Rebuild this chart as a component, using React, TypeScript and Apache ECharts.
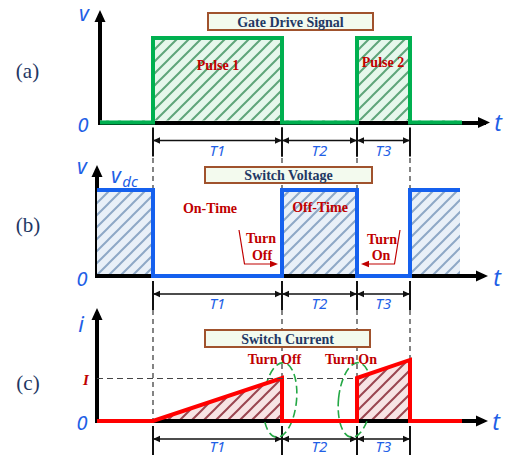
import React, { useEffect, useRef } from 'react';
import * as echarts from 'echarts';

// Switching instants (time units, 1 unit = 10 px) shared by the three traces
const edgeTimes = [5.5, 18.4, 25.9, 31.2];

// Interval spans dimensioned beneath each trace
const spanStarts = [5.5, 18.4, 25.9];
const spanEnds = [18.4, 25.9, 31.2];
const spanLabels = ['T1', 'T2', 'T3'];

// (a) gate drive signal (normalised)
const gateTimes = [0.2, 5.5, 5.5, 18.4, 18.4, 25.9, 25.9, 31.2, 31.2, 36.4];
const gateLevels = [0, 0, 1, 1, 0, 0, 1, 1, 0, 0];

// (b) switch voltage, normalised to Vdc
const voltTimes = [-0.1, 5.5, 5.5, 18.4, 18.4, 25.9, 25.9, 31.2, 31.2, 36.2];
const voltLevels = [1, 1, 0, 0, 1, 1, 0, 0, 1, 1];

// (c) switch current, normalised to I
const currTimes = [-0.1, 5.5, 18.4, 18.4, 25.9, 25.9, 31.2, 31.2, 36.4];
const currLevels = [0, 0, 1, 0, 0, 1, 1.42, 0, 0];
const currRefLevel = 1;
const currRefEnd = 25.9;

// Turn-off / turn-on instants annotated on (b) and (c); side = where the arrow sits
const turnTimes = [18.4, 25.9];
const turnSides = [-1, 1];

const BLUE_TXT = '#1F5FE6';
const NAVY = '#1F3864';
const RED_TXT = '#C00000';
const ITAL = '"Noto Sans", sans-serif';
const SERIF = '"Liberation Serif", "Times New Roman", serif';

function hatch(bg: string, stripe: string, size = 12, lw = 2) {
  const c = document.createElement('canvas');
  c.width = size;
  c.height = size;
  const g = c.getContext('2d')!;
  g.fillStyle = bg;
  g.fillRect(0, 0, size, size);
  g.strokeStyle = stripe;
  g.lineWidth = lw;
  g.beginPath();
  g.moveTo(0, size);
  g.lineTo(size, 0);
  g.moveTo(-size / 2, size / 2);
  g.lineTo(size / 2, -size / 2);
  g.moveTo(size / 2, size * 1.5);
  g.lineTo(size * 1.5, size / 2);
  g.stroke();
  return { image: c, repeat: 'repeat', imageWidth: size, imageHeight: size } as any;
}

const txt = (text: string, x: number, y: number, font: string, fill: string) => ({
  type: 'text',
  silent: true,
  z: 100,
  style: {
    text, x, y, font, fill,
    textAlign: 'center', textVerticalAlign: 'middle',
    align: 'center', verticalAlign: 'middle',
  },
});

const box = (x: number, y: number, w: number, h: number, label: string) => [
  {
    type: 'rect',
    silent: true,
    z: 99,
    shape: { x, y, width: w, height: h },
    style: { fill: '#F3FAEE', stroke: '#A0522D', lineWidth: 2 },
  },
  txt(label, x + w / 2, y + h / 2 + 0.5, `bold 14px ${SERIF}`, NAVY),
];

function axisPair(idx: number, xmin: number, xmax: number, ymax: number) {
  const line = {
    onZero: false,
    symbol: ['none', 'triangle'],
    symbolSize: [11, 12],
    lineStyle: { color: '#000', width: 4, cap: 'square' },
  };
  const hidden = {
    axisTick: { show: false },
    axisLabel: { show: false },
    splitLine: { show: false },
  };
  return {
    x: { gridIndex: idx, type: 'value', min: xmin, max: xmax, axisLine: line, ...hidden },
    y: { gridIndex: idx, type: 'value', min: 0, max: ymax, axisLine: line, ...hidden },
  };
}

function trace(idx: number, times: number[], levels: number[], color: string, fill: any, origin: number) {
  return {
    type: 'line',
    xAxisIndex: idx,
    yAxisIndex: idx,
    data: times.map((t, i) => [t, levels[i]]),
    symbol: 'none',
    showSymbol: false,
    clip: false,
    silent: true,
    lineStyle: { color, width: 4, cap: 'butt', join: 'miter' },
    areaStyle: { color: fill, opacity: 1, origin },
  } as any;
}

function dims(idx: number, labelOffset: number) {
  return {
    type: 'custom',
    xAxisIndex: idx,
    yAxisIndex: idx,
    silent: true,
    clip: false,
    encode: { x: [0, 1], y: 2 },
    data: spanStarts.map((s, i) => [s, spanEnds[i], 0]),
    renderItem: (params: any, api: any) => {
      const [x1, y0] = api.coord([api.value(0), 0]);
      const [x2] = api.coord([api.value(1), 0]);
      const y = y0 + 18;
      const k = { stroke: '#111', lineWidth: 1.3 };
      return {
        type: 'group',
        children: [
          { type: 'line', shape: { x1, y1: y, x2, y2: y }, style: k },
          { type: 'polygon', shape: { points: [[x1, y], [x1 + 7, y - 3.2], [x1 + 7, y + 3.2]] }, style: { fill: '#111' } },
          { type: 'polygon', shape: { points: [[x2, y], [x2 - 7, y - 3.2], [x2 - 7, y + 3.2]] }, style: { fill: '#111' } },
          { type: 'line', shape: { x1, y1: y0 + 5, x2: x1, y2: y0 + 34 }, style: { stroke: '#111', lineWidth: 2 } },
          { type: 'line', shape: { x1: x2, y1: y0 + 5, x2, y2: y0 + 34 }, style: { stroke: '#111', lineWidth: 2 } },
          txt(spanLabels[params.dataIndex], (x1 + x2) / 2, y0 + labelOffset, `italic 15px ${ITAL}`, BLUE_TXT),
        ],
      };
    },
  } as any;
}

// dashed guides joining the switching instants between panels
function guides(idx: number, refLevel: number, rise: number, drop: number) {
  return {
    type: 'custom',
    xAxisIndex: idx,
    yAxisIndex: idx,
    silent: true,
    clip: false,
    encode: { x: 0, y: 1 },
    data: edgeTimes.map((t) => [t, 0]),
    renderItem: (_p: any, api: any) => {
      const [x, yr] = api.coord([api.value(0), refLevel]);
      return {
        type: 'line',
        shape: { x1: x, y1: yr - rise, x2: x, y2: yr + drop },
        style: { stroke: '#333', lineWidth: 1.2, lineDash: [5, 4] },
      };
    },
  } as any;
}

function buildOption() {
  const a = axisPair(0, 0.2, 38.6, 1.26);
  const b = axisPair(1, -0.1, 38.4, 1.22);
  const c = axisPair(2, -0.1, 38.4, 2.49);

  const greenFill = hatch('#E6F7EC', '#5FA57A');
  const blueFill = hatch('#E9F0F8', '#8EA8C6');
  const redFill = hatch('#F7E4E4', '#9A4650');

  const current = trace(2, currTimes, currLevels, '#FF0000', redFill, 0.047);
  current.markLine = {
    silent: true,
    symbol: ['none', 'none'],
    label: { show: false },
    lineStyle: { color: '#444', width: 1.2, type: [6, 4] },
    data: [[{ coord: [-0.1, currRefLevel] }, { coord: [currRefEnd, currRefLevel] }]],
  };

  const turnArrows = {
    type: 'custom',
    xAxisIndex: 1,
    yAxisIndex: 1,
    silent: true,
    clip: false,
    encode: { x: 0, y: 1 },
    data: turnTimes.map((t, i) => [t, turnSides[i]]),
    renderItem: (_p: any, api: any) => {
      const side = api.value(1);
      const [ex, yb] = api.coord([api.value(0), 0]);
      const y = yb - 12;
      const tip = ex + side * 4;
      const corner = ex + side * 37.5;
      const top = ex + side * 43;
      return {
        type: 'group',
        children: [
          {
            type: 'polyline',
            shape: { points: [[top, yb - 46], [corner, y], [tip + side * 6, y]] },
            style: { stroke: RED_TXT, lineWidth: 1.2, fill: 'none' },
          },
          {
            type: 'polygon',
            shape: { points: [[tip, y], [tip + side * 8, y - 3.2], [tip + side * 8, y + 3.2]] },
            style: { fill: RED_TXT },
          },
        ],
      };
    },
  } as any;

  const rings = {
    type: 'custom',
    xAxisIndex: 2,
    yAxisIndex: 2,
    silent: true,
    clip: false,
    encode: { x: 0, y: 1 },
    data: turnTimes.map((t) => [t, 0]),
    renderItem: (_p: any, api: any) => {
      const [ex, yb] = api.coord([api.value(0), 0]);
      return {
        type: 'ellipse',
        x: ex - 2,
        y: yb - 21,
        rotation: -0.1,
        shape: { cx: 0, cy: 0, rx: 16.5, ry: 37.5 },
        style: { fill: 'none', stroke: '#25A846', lineWidth: 1.6, lineDash: [8, 4] },
      };
    },
  } as any;

  const redBold = `bold 14px ${SERIF}`;

  return {
    animation: false,
    backgroundColor: '#ffffff',
    grid: [
      { left: 100, top: 16, width: 384, height: 106.5 },
      { left: 97, top: 171, width: 385, height: 105 },
      { left: 97, top: 314, width: 385, height: 107 },
    ],
    xAxis: [a.x, b.x, c.x],
    yAxis: [a.y, b.y, c.y],
    series: [
      guides(1, 1, 32, 0),
      guides(2, 0, 111, 0),
      trace(0, gateTimes, gateLevels, '#00B050', greenFill, 0.024),
      trace(1, voltTimes, voltLevels, '#1560EE', blueFill, 0.023),
      current,
      dims(0, 27),
      dims(1, 27),
      dims(2, 24.5),
      turnArrows,
      rings,
    ],
    graphic: [
      txt('(a)', 27.5, 71, `21px ${SERIF}`, NAVY),
      txt('(b)', 28, 225, `21px ${SERIF}`, NAVY),
      txt('(c)', 28, 383, `21px ${SERIF}`, NAVY),

      txt('v', 84, 13, `italic 21px ${ITAL}`, BLUE_TXT),
      txt('0', 83, 124, `italic 20px ${ITAL}`, BLUE_TXT),
      txt('t', 498, 122, `italic 23px ${ITAL}`, BLUE_TXT),

      txt('v', 82, 166, `italic 21px ${ITAL}`, BLUE_TXT),
      txt('v', 116, 175, `italic 21px ${ITAL}`, BLUE_TXT),
      txt('dc', 130, 181, `italic 15px ${ITAL}`, BLUE_TXT),
      txt('0', 82, 278, `italic 20px ${ITAL}`, BLUE_TXT),
      txt('t', 497, 277, `italic 23px ${ITAL}`, BLUE_TXT),

      txt('i', 81, 323, `italic 22px ${ITAL}`, BLUE_TXT),
      txt('I', 86, 380, `bold italic 15px ${SERIF}`, RED_TXT),
      txt('0', 82, 422, `italic 20px ${ITAL}`, BLUE_TXT),
      txt('t', 496, 421, `italic 23px ${ITAL}`, BLUE_TXT),

      ...box(208, 13, 165, 17, 'Gate Drive Signal'),
      ...box(205, 167, 167, 16, 'Switch Voltage'),
      ...box(205, 330, 165, 17, 'Switch Current'),

      txt('Pulse 1', 218, 65, redBold, RED_TXT),
      txt('Pulse 2', 383, 62, redBold, RED_TXT),
      txt('On-Time', 210, 208, redBold, RED_TXT),
      txt('Off-Time', 320, 207, redBold, RED_TXT),
      txt('Turn', 261, 238, redBold, RED_TXT),
      txt('Off', 262, 255, redBold, RED_TXT),
      txt('Turn', 382, 239, redBold, RED_TXT),
      txt('On', 381, 255, redBold, RED_TXT),
      txt('Turn Off', 274.5, 359, redBold, RED_TXT),
      txt('Turn On', 351, 359, redBold, RED_TXT),
    ],
  };
}

export default function App() {
  const ref = useRef<HTMLDivElement>(null);
  useEffect(() => {
    const chart = echarts.init(ref.current!, null, { renderer: 'svg', width: 506, height: 455 });
    chart.setOption(buildOption() as any);
    return () => chart.dispose();
  }, []);
  return (
    <div
      ref={ref}
      style={{ position: 'fixed', left: 0, top: 0, width: 506, height: 455, background: '#fff' }}
    />
  );
}
